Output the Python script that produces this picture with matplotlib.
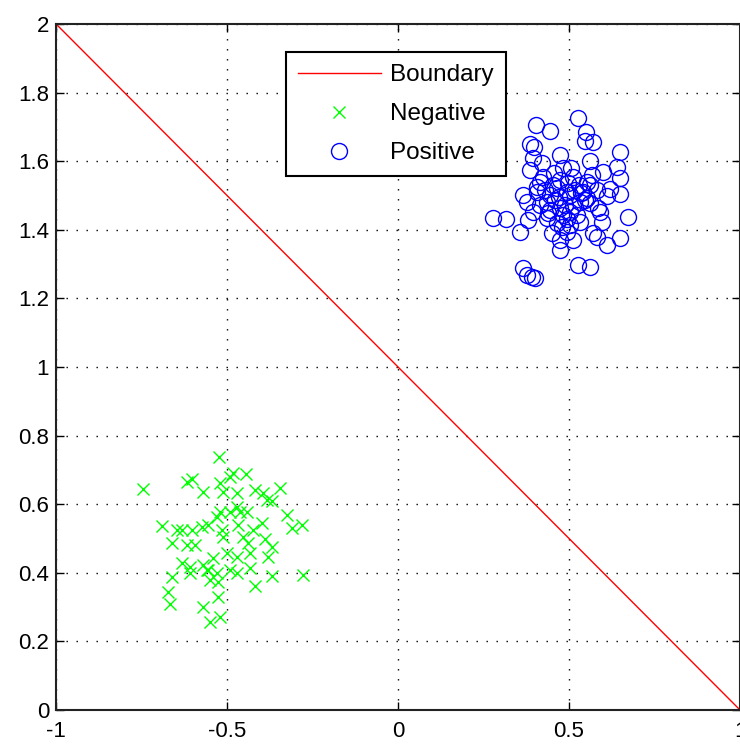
import matplotlib
matplotlib.use("Agg")
import matplotlib.pyplot as plt
from matplotlib.ticker import FuncFormatter

plt.rcParams['font.family'] = ['Liberation Sans', 'DejaVu Sans']

# decision boundary y = 1 - x
boundary_x = [-1, 1]
boundary_y = [2, 0]

neg_x = [-0.523, -0.745, -0.618, -0.603, -0.569, -0.491, -0.482, -0.444, -0.520, -0.511,
         -0.472, -0.418, -0.394, -0.384, -0.369, -0.345, -0.472, -0.491, -0.462, -0.442,
         -0.520, -0.530, -0.325, -0.691, -0.647, -0.632, -0.603, -0.574, -0.555, -0.515,
         -0.467, -0.423, -0.399, -0.311, -0.282, -0.662, -0.618, -0.594, -0.511, -0.452,
         -0.438, -0.389, -0.369, -0.501, -0.472, -0.433, -0.379, -0.540, -0.632, -0.608,
         -0.569, -0.559, -0.530, -0.472, -0.433, -0.608, -0.662, -0.550, -0.525, -0.369,
         -0.277, -0.418, -0.672, -0.525, -0.667, -0.569, -0.520, -0.550, -0.555, -0.491]
neg_y = [0.738, 0.643, 0.666, 0.673, 0.634, 0.680, 0.690, 0.688, 0.661, 0.636,
         0.632, 0.641, 0.632, 0.612, 0.610, 0.648, 0.593, 0.578, 0.578, 0.578,
         0.578, 0.564, 0.569, 0.537, 0.525, 0.525, 0.525, 0.533, 0.539, 0.525,
         0.539, 0.525, 0.544, 0.530, 0.539, 0.486, 0.481, 0.481, 0.505, 0.503,
         0.486, 0.498, 0.476, 0.457, 0.447, 0.457, 0.447, 0.442, 0.428, 0.418,
         0.423, 0.408, 0.398, 0.398, 0.413, 0.398, 0.389, 0.379, 0.374, 0.391,
         0.394, 0.360, 0.345, 0.330, 0.308, 0.301, 0.272, 0.257, 0.408, 0.408]

pos_x = [0.404, 0.444, 0.527, 0.550, 0.571, 0.547, 0.386, 0.398, 0.649, 0.474,
         0.561, 0.396, 0.420, 0.639, 0.386, 0.483, 0.600, 0.649, 0.425, 0.513,
         0.552, 0.454, 0.366, 0.406, 0.493, 0.581, 0.649, 0.610, 0.376, 0.435,
         0.532, 0.561, 0.396, 0.474, 0.503, 0.591, 0.279, 0.316, 0.381, 0.435,
         0.673, 0.464, 0.532, 0.596, 0.357, 0.449, 0.493, 0.571, 0.474, 0.513,
         0.581, 0.649, 0.610, 0.474, 0.527, 0.561, 0.366, 0.376, 0.391, 0.401,
         0.464, 0.444, 0.503, 0.542, 0.415, 0.483, 0.523, 0.459, 0.488, 0.518,
         0.430, 0.474, 0.547, 0.444, 0.503, 0.415, 0.561,
         0.455, 0.470, 0.498, 0.512, 0.535, 0.566, 0.585, 0.440, 0.480, 0.507,
         0.528, 0.552, 0.620, 0.405, 0.495]
pos_y = [1.706, 1.688, 1.725, 1.684, 1.655, 1.659, 1.649, 1.642, 1.628, 1.618,
         1.599, 1.608, 1.594, 1.584, 1.574, 1.579, 1.569, 1.550, 1.555, 1.555,
         1.540, 1.531, 1.501, 1.511, 1.511, 1.516, 1.503, 1.497, 1.482, 1.482,
         1.482, 1.477, 1.453, 1.463, 1.453, 1.453, 1.435, 1.431, 1.429, 1.434,
         1.438, 1.419, 1.424, 1.424, 1.392, 1.390, 1.394, 1.390, 1.370, 1.370,
         1.380, 1.375, 1.356, 1.341, 1.297, 1.290, 1.288, 1.268, 1.263, 1.259,
         1.521, 1.501, 1.501, 1.511, 1.540, 1.443, 1.443, 1.487, 1.472, 1.516,
         1.516, 1.545, 1.487, 1.458, 1.414, 1.472, 1.531,
         1.565, 1.495, 1.535, 1.468, 1.508, 1.560, 1.462, 1.448, 1.408, 1.580,
         1.530, 1.492, 1.520, 1.525, 1.432]

fig = plt.figure(figsize=(7.4, 7.46), dpi=100)
ax = fig.add_axes([0.0757, 0.0483, 0.9243, 0.9196])

ax.plot(boundary_x, boundary_y, color='red', lw=1, label='Boundary')
ax.plot(neg_x, neg_y, 'x', color='#00ff00', ms=8, mew=1, label='Negative')
ax.plot(pos_x, pos_y, 'o', mfc='none', mec='blue', ms=11.5, mew=1, label='Positive')

ax.set_xlim(-1, 1)
ax.set_ylim(0, 2)
ax.set_xticks([-1, -0.5, 0, 0.5, 1])
ax.set_yticks([0, 0.2, 0.4, 0.6, 0.8, 1, 1.2, 1.4, 1.6, 1.8, 2])
fmt = FuncFormatter(lambda v, p: '%g' % v)
ax.xaxis.set_major_formatter(fmt)
ax.yaxis.set_major_formatter(fmt)
ax.tick_params(direction='in', top=True, right=True, length=6, width=1,
               labelsize=16, pad=5)
ax.tick_params(axis='x', pad=8)
ax.grid(True, color='black', linestyle=(0, (1, 6.2)), lw=1)

for s in ax.spines.values():
    s.set_linewidth(1.5)
    s.set_color('#222222')

leg = ax.legend(loc='upper left', bbox_to_anchor=(0.336, 0.959), fancybox=False,
                edgecolor='black', framealpha=1, fontsize=17.5, borderpad=0.5,
                labelspacing=0.7, handlelength=3.4, handletextpad=0.4,
                borderaxespad=0)
leg.get_frame().set_linewidth(1.5)

fig.savefig('out.png', dpi=100)
